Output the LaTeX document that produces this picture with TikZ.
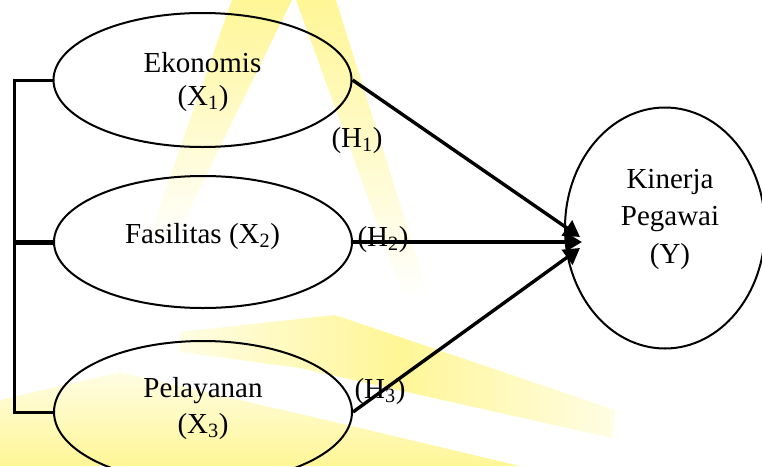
\documentclass[tikz,border=0pt]{standalone}
\usepackage{fontspec}
\setmainfont{Liberation Serif}
\usetikzlibrary{shapes.geometric,arrows.meta}
\definecolor{wmyellow}{RGB}{255,246,150}
\definecolor{wmpale}{RGB}{255,253,228}
\begin{document}
\begin{tikzpicture}[x=1pt,y=-1pt,
  ell/.style={draw,ellipse,line width=2pt,inner sep=0pt},
  txt/.style={anchor=base,inner sep=0pt,font=\fontsize{29}{33}\selectfont},
  hlab/.style={anchor=base,inner sep=0pt,font=\fontsize{29}{33}\selectfont},
  conn/.style={line width=3.4pt,-{Triangle[length=16pt,width=18pt]}},
  brk/.style={line width=3pt}]
\useasboundingbox (0,0) rectangle (762,466);
\clip (0,0) rectangle (762,466);
% faint watermark
\shade[top color=wmyellow,bottom color=white] (232,0) -- (292,0) -- (172,245) -- (148,240) -- cycle;
\shade[top color=wmyellow,bottom color=white] (296,0) -- (336,0) -- (430,300) -- (405,300) -- cycle;
\shade[left color=wmpale,right color=wmpale,middle color=wmyellow] (180,332) -- (335,315) -- (615,410) -- (612,438) -- (300,368) -- (180,352) -- cycle;
\shade[top color=wmpale,bottom color=wmyellow] (0,400) -- (120,372) -- (360,428) -- (520,466) -- (0,466) -- cycle;
% ellipses
\node[ell,minimum width=298pt,minimum height=134pt] (e1) at (202.5,80) {};
\node[ell,minimum width=298pt,minimum height=132pt] (e2) at (203,242) {};
\node[ell,minimum width=298pt,minimum height=142pt] (e3) at (203,412) {};
\node[ell,minimum width=200pt,minimum height=241pt] (ey) at (665,228) {};
% texts
\node[txt] (t1a) at (202.5,72) {Ekonomis};
\node[txt] (t1b) at (203,105) {(X\textsubscript{1})};
\node[txt] (t2) at (202.5,243) {Fasilitas (X\textsubscript{2})};
\node[txt] (t3a) at (203,397) {Pelayanan};
\node[txt] (t3b) at (203,433) {(X\textsubscript{3})};
\node[txt] (tya) at (670,188) {Kinerja};
\node[txt] (tyb) at (670,225) {Pegawai};
\node[txt] (tyc) at (670,263) {(Y)};
% hypothesis labels
\node[hlab] (h1) at (357,147) {(H\textsubscript{1})};
\node[hlab] (h2) at (383,246) {(H\textsubscript{2})};
\node[hlab] (h3) at (380,398) {(H\textsubscript{3})};
% bracket
\coordinate (b1) at (14,80);
\coordinate (b2) at (14,242);
\coordinate (b3) at (14,412);
\draw[brk] (e1.west) -- (b1) -- (b3) -- (e3.west);
\draw[line width=5pt] (b2) -- (e2.west);
% arrows
\coordinate (p1) at (580,237);
\coordinate (p2) at (582,242);
\coordinate (p3) at (580,248);
\draw[conn] (e1.east) -- (p1);
\draw[conn] (e2.east) -- (p2);
\draw[conn] (e3.east) -- (p3);
\end{tikzpicture}
\end{document}
